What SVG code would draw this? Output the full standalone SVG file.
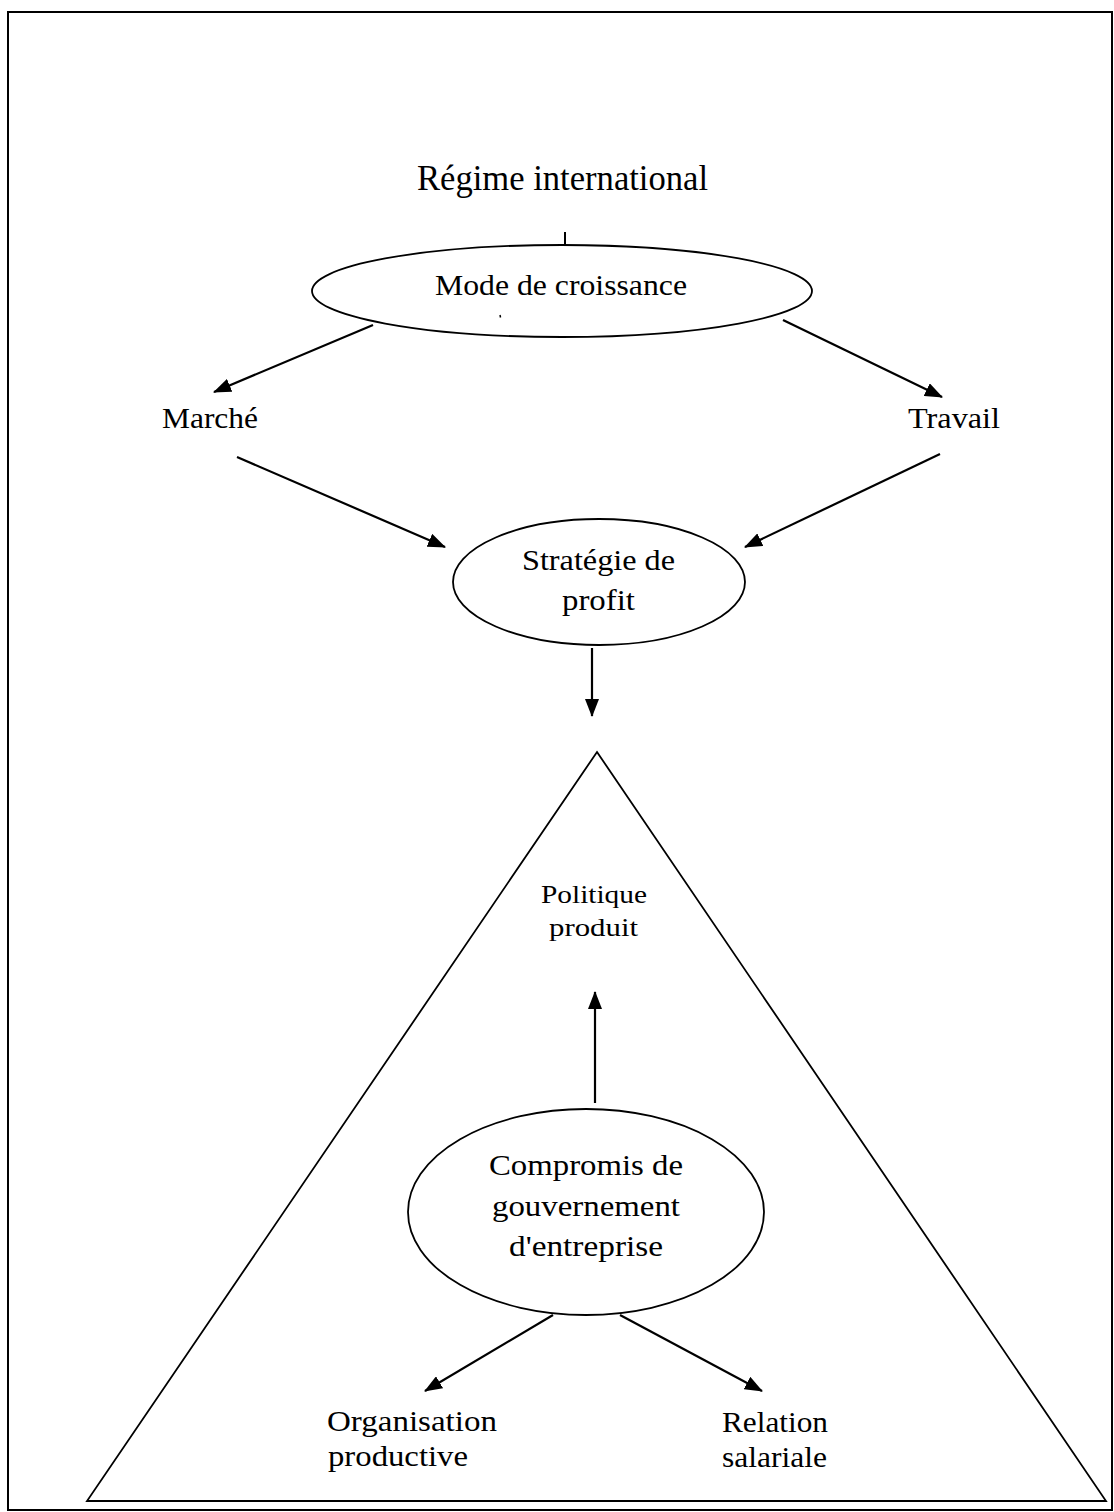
<svg xmlns="http://www.w3.org/2000/svg" width="1114" height="1512" viewBox="0 0 1114 1512">
<style>
  .t { font-family: "Liberation Serif", "Times New Roman", serif; fill: #000; }
  .l { font-size: 30px; }
  .s { font-size: 25px; }
  .shape { fill: none; stroke: #000; stroke-width: 1.8; }
  .edge { fill: none; stroke: #000; stroke-width: 2.2; }
</style>
<defs>
  <marker id="ah" markerUnits="userSpaceOnUse" markerWidth="18" markerHeight="14" refX="17" refY="7" orient="auto">
    <path d="M0,0 L18,7 L0,14 z" fill="#000"/>
  </marker>
</defs>
<rect x="0" y="0" width="1114" height="1512" fill="#fff"/>
<rect id="frame" x="8" y="12" width="1104" height="1498" fill="none" stroke="#000" stroke-width="2"/>

<g id="regime">
  <text class="t" x="417" y="190" font-size="35" textLength="291" lengthAdjust="spacingAndGlyphs">Régime international</text>
  <line x1="565" y1="232" x2="565" y2="246" stroke="#000" stroke-width="2"/>
</g>

<g id="mode">
  <ellipse class="shape" cx="562" cy="291" rx="250" ry="46"/>
  <text class="t l" x="435" y="295" textLength="252" lengthAdjust="spacingAndGlyphs">Mode de croissance</text>
  <line x1="500" y1="315" x2="500.5" y2="317.5" stroke="#000" stroke-width="1.5"/>
</g>

<g id="marche">
  <text class="t l" x="162" y="428" textLength="96" lengthAdjust="spacingAndGlyphs">Marché</text>
</g>

<g id="travail">
  <text class="t l" x="908" y="428" textLength="92" lengthAdjust="spacingAndGlyphs">Travail</text>
</g>

<g id="strategie">
  <ellipse class="shape" cx="599" cy="582" rx="146" ry="63"/>
  <text class="t l" x="522" y="570" textLength="153" lengthAdjust="spacingAndGlyphs">Stratégie de</text>
  <text class="t l" x="562" y="610" textLength="73" lengthAdjust="spacingAndGlyphs">profit</text>
</g>

<g id="triangle">
  <polygon class="shape" points="597,752 1106,1501 87,1501"/>
</g>

<g id="politique">
  <text class="t s" x="541" y="903" textLength="106" lengthAdjust="spacingAndGlyphs">Politique</text>
  <text class="t s" x="549" y="936" textLength="89" lengthAdjust="spacingAndGlyphs">produit</text>
</g>

<g id="compromis">
  <ellipse class="shape" cx="586" cy="1212" rx="178" ry="103"/>
  <text class="t l" x="489" y="1175" textLength="194" lengthAdjust="spacingAndGlyphs">Compromis de</text>
  <text class="t l" x="492" y="1216" textLength="188" lengthAdjust="spacingAndGlyphs">gouvernement</text>
  <text class="t l" x="509" y="1256" textLength="154" lengthAdjust="spacingAndGlyphs">d'entreprise</text>
</g>

<g id="organisation">
  <text class="t l" x="327" y="1431" textLength="170" lengthAdjust="spacingAndGlyphs">Organisation</text>
  <text class="t l" x="328" y="1466" textLength="140" lengthAdjust="spacingAndGlyphs">productive</text>
</g>

<g id="relation">
  <text class="t l" x="722" y="1432" textLength="106" lengthAdjust="spacingAndGlyphs">Relation</text>
  <text class="t l" x="722" y="1467" textLength="105" lengthAdjust="spacingAndGlyphs">salariale</text>
</g>

<g id="connectors">
  <line class="edge" x1="373" y1="325" x2="214" y2="392" marker-end="url(#ah)"/>
  <line class="edge" x1="783" y1="320" x2="942" y2="397" marker-end="url(#ah)"/>
  <line class="edge" x1="237" y1="457" x2="445" y2="547" marker-end="url(#ah)"/>
  <line class="edge" x1="940" y1="454" x2="745" y2="547" marker-end="url(#ah)"/>
  <line class="edge" x1="592" y1="648" x2="592" y2="716" marker-end="url(#ah)"/>
  <line class="edge" x1="595" y1="1103" x2="595" y2="992" marker-end="url(#ah)"/>
  <line class="edge" x1="553" y1="1315" x2="425" y2="1391" marker-end="url(#ah)"/>
  <line class="edge" x1="620" y1="1315" x2="762" y2="1391" marker-end="url(#ah)"/>
</g>
</svg>
